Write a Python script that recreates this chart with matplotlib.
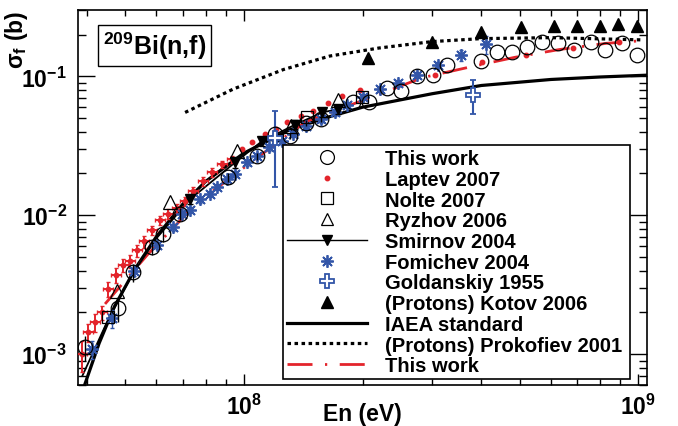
import matplotlib
matplotlib.use('Agg')
import matplotlib.pyplot as plt
from matplotlib.lines import Line2D
from matplotlib.ticker import LogLocator, NullFormatter, FixedLocator, FixedFormatter

plt.rcParams['font.family'] = ['Liberation Sans', 'DejaVu Sans']
plt.rcParams['font.weight'] = 'bold'
plt.rcParams['mathtext.fontset'] = 'custom'
plt.rcParams['mathtext.rm'] = 'Liberation Sans:bold'
plt.rcParams['mathtext.bf'] = 'Liberation Sans:bold'
plt.rcParams['mathtext.it'] = 'Liberation Sans:italic:bold'
plt.rcParams['mathtext.default'] = 'bf'

RED = '#e3242b'
BLUE = '#3356a8'

# This work (points)
tw_E = [3.95e7, 4.8e7, 5.24e7, 5.85e7, 6.24e7, 6.89e7, 9.1e7, 1.08e8, 1.2e8, 1.31e8,
        1.44e8, 1.57e8, 1.89e8, 2.08e8, 2.3e8, 2.5e8, 2.74e8, 3.01e8, 3.28e8, 3.98e8,
        4.37e8, 4.77e8, 5.23e8, 5.71e8, 6.27e8, 6.88e8, 7.56e8, 8.25e8, 9.06e8, 9.94e8]
tw_s = [1.12e-3, 2.14e-3, 3.89e-3, 5.89e-3, 7.29e-3, 1.02e-2, 1.88e-2, 2.66e-2, 3.83e-2, 3.7e-2,
        4.59e-2, 4.91e-2, 6.5e-2, 6.5e-2, 8.2e-2, 7.8e-2, 0.100, 0.102, 0.120, 0.128,
        0.149, 0.149, 0.162, 0.176, 0.173, 0.156, 0.176, 0.156, 0.173, 0.142]
tw_rel = [0.2, 0.2, 0.15, 0.12, 0.12, 0.1, 0.08, 0.06, 0.05, 0.05,
          0.05, 0.05] + [0.0] * 18

# Laptev 2007
lap_E = [3.89e7, 4.03e7, 4.2e7, 4.37e7, 4.53e7, 4.74e7, 4.94e7, 5.14e7, 5.36e7, 5.58e7,
         5.85e7, 6.13e7, 6.42e7, 6.77e7, 7.09e7, 7.43e7, 7.87e7, 8.3e7, 8.8e7, 9.33e7,
         9.88e7, 1.05e8, 1.13e8, 1.21e8, 1.29e8, 1.40e8, 1.50e8, 1.63e8, 1.77e8, 1.97e8,
         3.06e8, 4.01e8, 5.2e8, 6.84e8, 8.95e8]
lap_s = [1.0e-3, 1.44e-3, 1.7e-3, 2.0e-3, 2.94e-3, 3.7e-3, 4.37e-3, 4.67e-3, 5.6e-3, 6.5e-3,
         7.8e-3, 9.2e-3, 1.03e-2, 1.12e-2, 1.26e-2, 1.49e-2, 1.76e-2, 2.04e-2, 2.33e-2, 2.53e-2,
         2.98e-2, 3.35e-2, 3.83e-2, 4.16e-2, 4.67e-2, 5.15e-2, 5.6e-2, 6.4e-2, 7.18e-2, 7.93e-2,
         0.1016, 0.126, 0.142, 0.159, 0.176]
lap_dx = [0.03] * 20 + [0.0] * 15
lap_dy = [0.25, 0.15, 0.15, 0.12, 0.12, 0.12, 0.1, 0.1, 0.1, 0.1,
          0.08, 0.08, 0.08, 0.08, 0.08, 0.07, 0.07, 0.07, 0.06, 0.06] + [0.0] * 15

# Nolte 2007
nol_E = [4.53e7, 1.45e8, 1.99e8]
nol_s = [1.85e-3, 5.07e-2, 7.06e-2]

# Ryzhov 2006
ryz_E = [4.77e7, 6.5e7, 9.6e7, 1.32e8, 1.73e8]
ryz_s = [2.84e-3, 1.24e-2, 2.88e-2, 4.37e-2, 6.72e-2]

# Smirnov 2004
smi_E = [3.9e7, 4.5e7, 5.2e7, 6.0e7, 7.3e7, 9.5e7, 1.11e8, 1.35e8, 1.58e8, 1.73e8]
smi_s = [7.0e-4, 1.7e-3, 3.7e-3, 6.8e-3, 1.3e-2, 2.4e-2, 3.4e-2, 4.5e-2, 5.5e-2, 5.8e-2]
smi_rel = [0, 0, 0, 0, 0.08, 0.08, 0.07, 0.07, 0.07, 0.07]

# Fomichev 2004
fom_E = [4.12e7, 4.64e7, 5.27e7, 6.03e7, 6.61e7, 6.97e7, 7.29e7, 7.74e7, 8.2e7, 8.55e7,
         9.06e7, 9.49e7, 1.02e8, 1.08e8, 1.16e8, 1.25e8, 1.33e8, 1.44e8, 1.57e8, 1.70e8,
         1.83e8, 2.01e8, 2.22e8, 2.46e8, 2.74e8, 3.1e8, 3.56e8, 4.12e8]
fom_s = [1.09e-3, 1.82e-3, 3.95e-3, 6.08e-3, 8.2e-3, 1.02e-2, 1.1e-2, 1.3e-2, 1.42e-2, 1.59e-2,
         1.81e-2, 1.97e-2, 2.4e-2, 2.66e-2, 3.08e-2, 3.4e-2, 3.83e-2, 4.37e-2, 4.9e-2, 5.5e-2,
         6.2e-2, 7.06e-2, 8.06e-2, 8.9e-2, 0.102, 0.12, 0.142, 0.17]
fom_rel = [0.15, 0.15, 0.08, 0.06, 0.06, 0.05, 0.05, 0.05, 0.05, 0.05,
           0.05, 0.05, 0.05, 0.05, 0.05, 0.05, 0.05, 0.05, 0.05, 0.05,
           0.05, 0.05, 0.05, 0.05, 0.05, 0.05, 0.09, 0.15]

# Goldanskiy 1955
gol_E = [1.2e8, 3.8e8]
gol_s = [0.036, 0.074]
gol_err = [0.020, 0.020]

# (Protons) Kotov 2006
kot_E = [2.06e8, 3.0e8, 4.0e8, 5.03e8, 6.1e8, 6.97e8, 7.97e8, 8.9e8, 9.9e8]
kot_s = [0.135, 0.176, 0.207, 0.225, 0.229, 0.23, 0.229, 0.24, 0.23]

# IAEA standard
iaea_E = [3.95e7, 4.3e7, 4.7e7, 5.3e7, 6e7, 7e7, 8e7, 1e8, 1.3e8, 1.6e8,
          2e8, 3e8, 4e8, 6e8, 8e8, 1.05e9]
iaea_s = [6.0e-4, 1.2e-3, 2.2e-3, 4.1e-3, 7.0e-3, 1.2e-2, 1.75e-2, 2.8e-2, 4.1e-2, 5.0e-2,
          6.0e-2, 7.5e-2, 8.6e-2, 9.5e-2, 9.9e-2, 1.02e-1]

# (Protons) Prokofiev 2001
pro_E = [7.1e7, 9.4e7, 1.26e8, 1.65e8, 2.2e8, 3.0e8, 4.0e8, 6.0e8, 1.03e9]
pro_s = [0.055, 0.081, 0.112, 0.14, 0.16, 0.178, 0.187, 0.19, 0.183]

# This work (curve)
red_E = [4.45e7, 5.7e7, 7.6e7, 1.0e8, 1.43e8, 1.97e8, 2.84e8, 3.7e8, 4.85e8, 6.3e8, 8.3e8, 1.03e9]
red_s = [2.3e-3, 5.2e-3, 1.22e-2, 2.2e-2, 4.7e-2, 6.6e-2, 9.8e-2, 0.116, 0.137, 0.156, 0.173, 0.181]

labels = ['This work', 'Laptev 2007', 'Nolte 2007', 'Ryzhov 2006', 'Smirnov 2004',
          'Fomichev 2004', 'Goldanskiy 1955', '(Protons) Kotov 2006', 'IAEA standard',
          '(Protons) Prokofiev 2001', 'This work']

fig = plt.figure(figsize=(6.78, 4.27), dpi=100)
ax = fig.add_axes([0.115, 0.096, 0.839, 0.878])
ax.set_xscale('log')
ax.set_yscale('log')

# curves
ax.plot(iaea_E, iaea_s, color='k', lw=2.3, zorder=3)
ax.plot(pro_E, pro_s, color='k', lw=2.3, ls=(0, (1.1, 1.1)), zorder=3)
ax.plot(red_E, red_s, color=RED, lw=2.0, ls=(0, (9, 4.5, 0.8, 4.5)), zorder=3)
ax.plot(smi_E, smi_s, color='k', lw=1.3, zorder=3)

# points
ax.errorbar(lap_E, lap_s, xerr=[e * d for e, d in zip(lap_E, lap_dx)],
            yerr=[s * d for s, d in zip(lap_s, lap_dy)], fmt='o', ms=3.2, color=RED,
            ecolor=RED, elinewidth=1.4, capsize=1.5, zorder=4)
ax.errorbar(fom_E, fom_s, yerr=[s * r for s, r in zip(fom_s, fom_rel)], fmt='none',
            ecolor=BLUE, elinewidth=1, capsize=1.5, zorder=4)
ax.plot(fom_E, fom_s, ls='none', marker=(8, 2, 0), ms=9, mew=1.3, color=BLUE, zorder=5)
ax.errorbar(tw_E, tw_s, yerr=[s * r for s, r in zip(tw_s, tw_rel)], fmt='o', ms=10.5,
            mfc='none', mec='k', mew=0.9, ecolor='k', elinewidth=1, capsize=0, zorder=5)
ax.plot(nol_E, nol_s, ls='none', marker='s', ms=8, mfc='none', mec='k', mew=0.9, zorder=5)
ax.plot(ryz_E, ryz_s, ls='none', marker='^', ms=10, mfc='none', mec='k', mew=0.9, zorder=5)
ax.errorbar(smi_E[4:], smi_s[4:], yerr=[s * r for s, r in zip(smi_s[4:], smi_rel[4:])],
            fmt='v', ms=7, color='k', elinewidth=1, capsize=2, zorder=5)
ax.errorbar(gol_E, gol_s, yerr=gol_err, fmt='P', ms=10, mfc='white', mec=BLUE, mew=1.3,
            ecolor=BLUE, elinewidth=1.5, capsize=2.5, zorder=5)
ax.plot(kot_E, kot_s, ls='none', marker='^', ms=8.5, color='k', zorder=5)

ax.set_xlim(3.8e7, 1.05e9)
ax.set_ylim(6e-4, 0.3)

ax.xaxis.set_major_locator(FixedLocator([1e8, 1e9]))
ax.xaxis.set_major_formatter(FixedFormatter([r'$10^{8}$', r'$10^{9}$']))
ax.xaxis.set_minor_locator(LogLocator(base=10, subs=range(2, 10), numticks=20))
ax.xaxis.set_minor_formatter(NullFormatter())
ax.yaxis.set_major_locator(FixedLocator([1e-3, 1e-2, 1e-1]))
ax.yaxis.set_major_formatter(FixedFormatter([r'$10^{-3}$', r'$10^{-2}$', r'$10^{-1}$']))
ax.yaxis.set_minor_locator(LogLocator(base=10, subs=range(2, 10), numticks=20))
ax.yaxis.set_minor_formatter(NullFormatter())

ax.tick_params(which='both', direction='in', top=True, right=True, width=1)
ax.tick_params(axis='y', which='major', length=12, labelsize=16.5, pad=8)
ax.tick_params(axis='y', which='minor', length=6)
ax.tick_params(axis='x', which='major', length=8, labelsize=16.5, pad=6)
ax.tick_params(axis='x', which='minor', length=4.5)
for sp in ax.spines.values():
    sp.set_linewidth(1.2)

ax.set_xlabel('En (eV)', fontsize=16.5, fontweight='bold')
ax.xaxis.set_label_coords(0.5, -0.045)
ax.set_ylabel(r'σ$_{\mathbf{f}}$ (b)', fontsize=16.5, fontweight='bold', loc='top')
ax.yaxis.set_label_coords(-0.085, 1.0)

ax.text(0.135, 0.905, r'$^{209}$Bi(n,f)', transform=ax.transAxes, fontsize=18,
        fontweight='bold', ha='center', va='center',
        bbox=dict(boxstyle='square,pad=0.2', fc='white', ec='k', lw=1))

handles = [
    Line2D([], [], ls='none', marker='o', ms=10, mfc='none', mec='k', mew=0.9),
    Line2D([], [], ls='none', marker='o', ms=3.2, color=RED),
    Line2D([], [], ls='none', marker='s', ms=8, mfc='none', mec='k', mew=0.9),
    Line2D([], [], ls='none', marker='^', ms=9, mfc='none', mec='k', mew=0.9),
    Line2D([], [], color='k', lw=1, marker='v', ms=7),
    Line2D([], [], ls='none', marker=(8, 2, 0), ms=9, mew=1.3, color=BLUE),
    Line2D([], [], ls='none', marker='P', ms=10, mfc='white', mec=BLUE, mew=1.3),
    Line2D([], [], ls='none', marker='^', ms=8.5, color='k'),
    Line2D([], [], color='k', lw=2.3),
    Line2D([], [], color='k', lw=2.3, ls=(0, (1.1, 1.1))),
    Line2D([], [], color=RED, lw=2.0, ls=(0, (9, 4.5, 0.8, 4.5))),
]
leg = ax.legend(handles, labels, loc='upper left', bbox_to_anchor=(0.36, 0.024, 0.61, 0.616),
                mode='expand', fontsize=14.5, frameon=True, fancybox=False, edgecolor='k',
                framealpha=1, handlelength=4.0, handletextpad=0.9, labelspacing=0.085,
                borderpad=0.2, borderaxespad=0)
leg.get_frame().set_linewidth(1.2)
leg.set_zorder(10)

fig.savefig('out.png', dpi=100)
